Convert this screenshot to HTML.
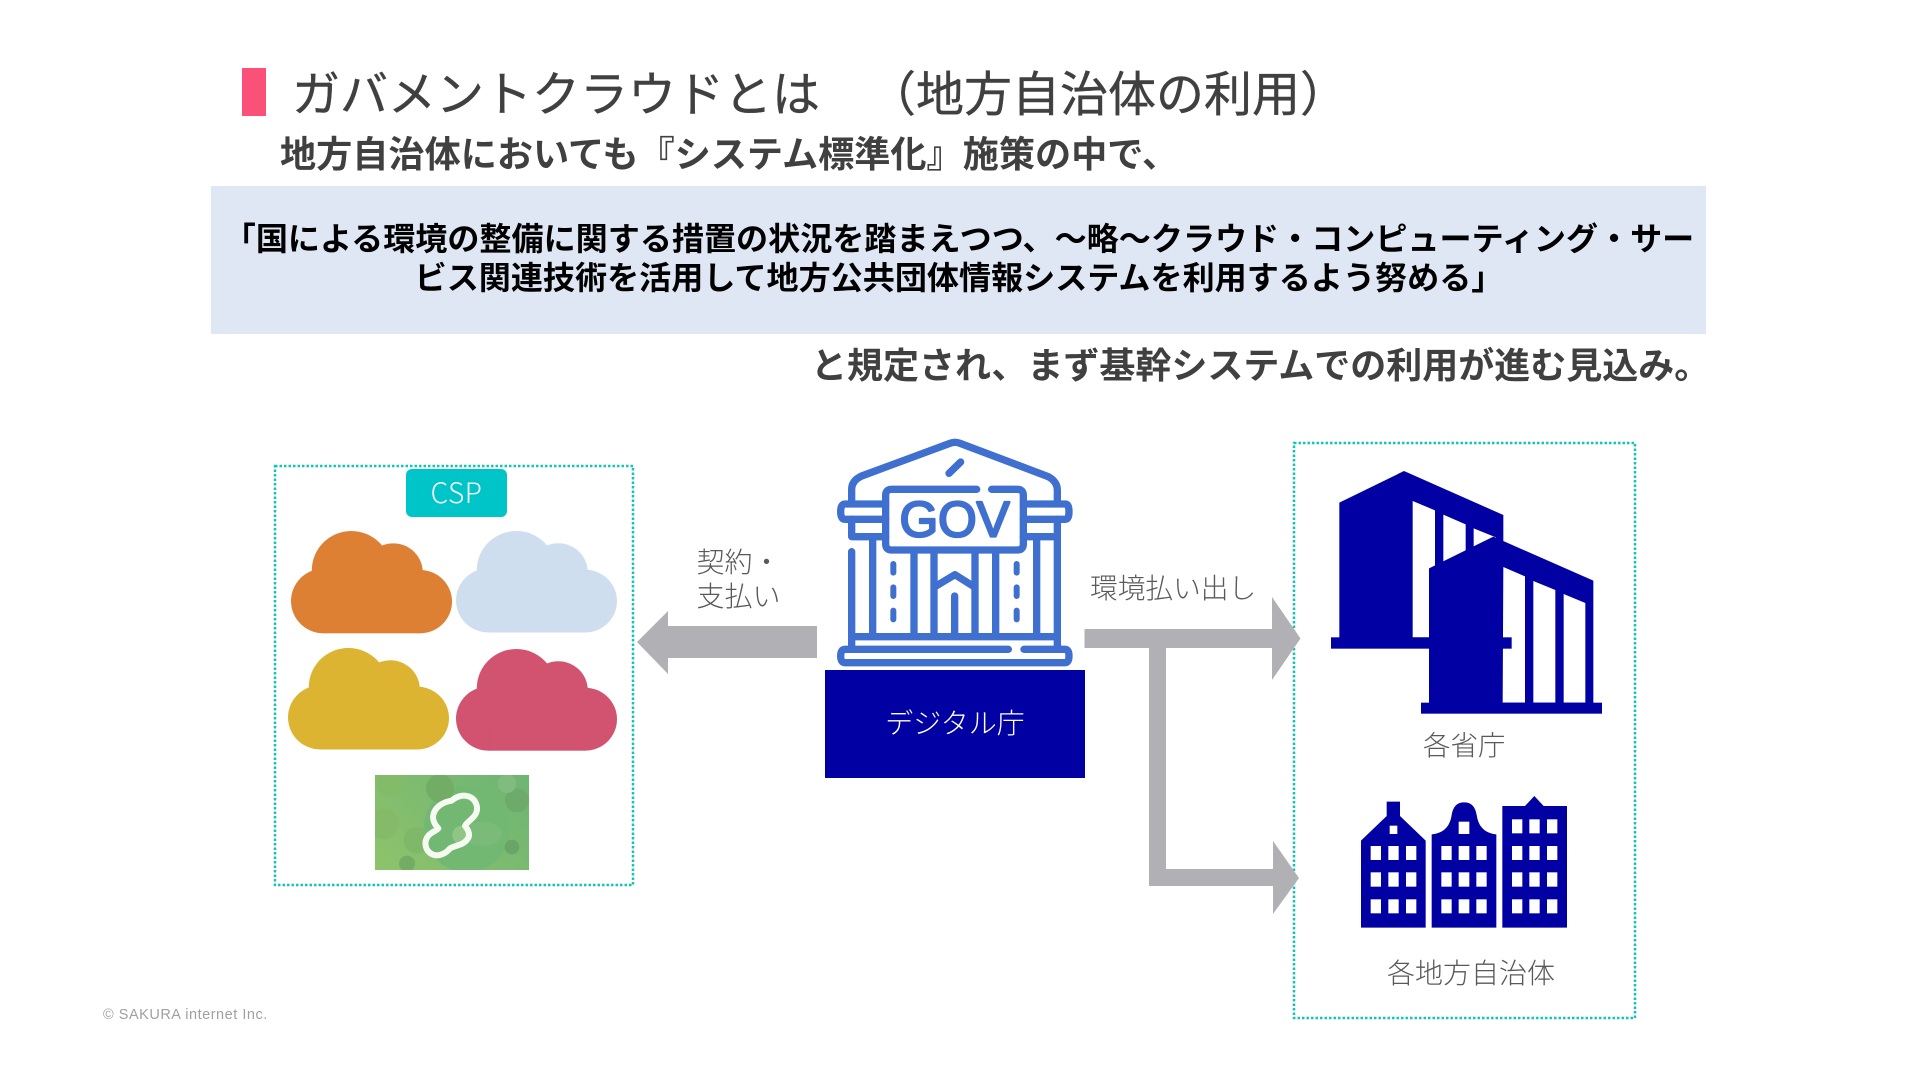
<!DOCTYPE html>
<html lang="ja">
<head>
<meta charset="utf-8">
<title>ガバメントクラウドとは</title>
<style>
html,body{margin:0;padding:0;background:#fff}
#p{position:relative;width:1920px;height:1080px;overflow:hidden;background:#fff;font-family:"Liberation Sans","Noto Sans CJK JP",sans-serif}
.t{position:absolute;white-space:nowrap;font-family:"Noto Sans CJK JP","Liberation Sans",sans-serif}
.l{color:#595959;font-weight:300}
svg{position:absolute;overflow:visible}
</style>
</head>
<body>
<div id="p">
<div style="position:absolute;left:242px;top:68px;width:24px;height:48px;background:#fb5078"></div>
<div class="t" style="left:292px;top:58px;font-size:48px;line-height:64px;color:#404040;-webkit-text-stroke:.4px #404040">ガバメントクラウドとは<span style="margin-left:48px">（地方自治体の利用）</span></div>
<div class="t" style="left:280px;top:127px;font-size:36.150px;line-height:50px;color:#404040;font-weight:700">地方自治体においても『システム標準化』施策の中で、</div>
<div style="position:absolute;left:210.500px;top:185.500px;width:1495.500px;height:148px;background:#dfe7f5"></div>
<div class="t" style="left:211px;top:218px;width:1496px;text-align:center;font-size:32.100px;line-height:39px;color:#000;font-weight:700">「国による環境の整備に関する措置の状況を踏まえつつ、～略～クラウド・コンピューティング・サー<br>ビス関連技術を活用して地方公共団体情報システムを利用するよう努める」</div>
<div class="t" style="left:811px;top:338px;font-size:36px;line-height:50px;color:#404040;font-weight:700">と規定され、まず基幹システムでの利用が進む見込み。</div>

<svg style="left:0;top:0" width="1920" height="1080" fill="none" stroke="#14c4b4" stroke-width="2.500" stroke-dasharray="2.500 2">
<rect x="275" y="466" width="358" height="419"/>
<rect x="1294" y="443" width="341" height="575"/>
</svg>
<div class="t" style="left:406px;top:469px;width:101px;height:48px;background:#00c5c8;border-radius:6px;text-align:center;color:#fff;font-size:28px;line-height:47px;font-weight:300;letter-spacing:.5px">CSP</div>

<svg width="0" height="0" style="position:absolute">
<defs>
<g id="cl">
<circle cx="97" cy="210" r="97"/><circle cx="385" cy="212" r="95"/><rect x="97" y="150" width="288" height="157"/><circle cx="180" cy="118" r="118"/><circle cx="305" cy="125" r="88"/>
</g>
</defs>
</svg>
<svg style="left:290.500px;top:531px" width="161" height="102.300" viewBox="0 0 480 307" preserveAspectRatio="none" fill="#dd8034"><use href="#cl"/></svg>
<svg style="left:456.200px;top:531px" width="161" height="101.500" viewBox="0 0 480 307" preserveAspectRatio="none" fill="#cfdeee"><use href="#cl"/></svg>
<svg style="left:288px;top:648.300px" width="161" height="101.500" viewBox="0 0 480 307" preserveAspectRatio="none" fill="#dcb432"><use href="#cl"/></svg>
<svg style="left:456.200px;top:649.300px" width="161" height="101.700" viewBox="0 0 480 307" preserveAspectRatio="none" fill="#d1536f"><use href="#cl"/></svg>

<svg style="left:375px;top:775px;overflow:hidden" width="154" height="95" viewBox="344 974 462 285" preserveAspectRatio="none">
<defs><linearGradient id="gg" x1="0" y1="0.8" x2="1" y2="0.2"><stop offset="0" stop-color="#8cc26b"/><stop offset="1" stop-color="#6fb574"/></linearGradient></defs>
<rect x="344" y="974" width="462" height="285" fill="url(#gg)"/>
<circle cx="370" cy="1120" r="46" fill="#84ba68"/>
<circle cx="390" cy="1000" r="40" fill="#84bb69"/>
<circle cx="620" cy="1135" r="130" fill="#72b772"/>
<circle cx="539" cy="1014" r="42" fill="#72ac65"/>
<circle cx="770" cy="1050" r="36" fill="#6cab6a"/>
<circle cx="440" cy="1240" r="24" fill="#74ac64"/>
<circle cx="755" cy="1190" r="22" fill="#6aa567"/>
<circle cx="470" cy="1170" r="40" fill="#80b86a"/>
<circle cx="740" cy="1000" r="28" fill="#80bb80"/>
<ellipse cx="665" cy="1150" rx="60" ry="36" fill="#7abb7a"/>
<circle cx="604" cy="1154" r="28" fill="#8fc585"/>
<path transform="translate(329 959)" d="M192 128C200 108 222 95 245 92C258 80 280 72 298 80C318 88 326 112 318 130C310 148 290 155 285 168C295 180 302 195 292 208C280 226 255 226 240 235C228 250 205 262 187 253C165 243 160 215 175 197C183 187 200 182 205 175C195 165 184 148 192 128Z" fill="none" stroke="#f6fbf2" stroke-width="18" stroke-linejoin="round"/>
</svg>

<svg style="left:820px;top:430px" width="300" height="360" viewBox="0 0 900 1080" fill="none" stroke="#3f70cf" stroke-width="22" stroke-linecap="round" stroke-linejoin="round">
<path d="M95 210V178Q95 152 125 138L390 40Q405 34 420 40L685 140Q712 155 712 180V210"/>
<path d="M387 130L422 96"/>
<path d="M470 178H215Q197 178 197 196V342Q197 360 215 360H592Q610 360 610 342V196Q610 178 592 178H515"/>
<text x="404" y="320" font-family="Liberation Sans" font-size="150" text-anchor="middle" fill="#3f70cf" stroke="#3f70cf" stroke-width="7" textLength="330" lengthAdjust="spacingAndGlyphs">GOV</text>
<path d="M197 222H75Q62 222 62 245Q62 268 75 268H197M610 222H735Q747 222 747 245Q747 268 735 268H610"/>
<path d="M95 268V320H197M712 268V320H610"/>
<path d="M95 365V650M158 320V620M282 365V620M342 365V620M465 365V620M527 365V620M650 320V620M712 320V650M95 620H712"/>
<path d="M220 402V428M220 472V498M220 542V568M590 402V428M590 472V498M590 542V568" stroke-width="18"/>
<path d="M345 470L405 434L462 470M404 498V610"/>
<path d="M565 658H75Q62 658 62 678Q62 698 75 698H735Q747 698 747 678Q747 658 735 658H612"/>
</svg>

<div class="t" style="left:825px;top:669.500px;width:260px;height:108.500px;background:#0000a3;color:#fff;text-align:center;font-size:28px;line-height:104px;font-weight:300">デジタル庁</div>

<svg style="left:0;top:0" width="1920" height="1080" fill="#b1b1b5">
<polygon points="637,642 668,611 668,626 817,626 817,658 668,658 668,674"/>
<polygon points="1084.500,629 1272,629 1272,597 1300.500,638.500 1272,680 1272,648 1166,648 1166,869 1273,869 1273,841 1299,878 1273,914 1273,886 1149,886 1149,648 1084.500,648"/>
</svg>

<div class="t l" style="left:696.500px;top:544px;font-size:28px;line-height:34px">契約・<br>支払い</div>
<div class="t l" style="left:1090px;top:566px;font-size:27.700px;line-height:40px">環境払い出し</div>

<svg style="left:1280px;top:430px" width="400" height="340" viewBox="0 0 1200 1020" fill="#0000a3">
<polygon points="178,218 372,123 670,255 670,640 178,640"/>
<g fill="#fff">
<polygon points="398,213 465,241 465,622 398,622"/>
<polygon points="490,254 557,283 557,622 490,622"/>
<polygon points="581,295 648,322 648,622 581,622"/>
</g>
<polygon points="447,415 640,320 940,452 940,830 447,830"/>
<g fill="#fff">
<polygon points="670,411 735,439 735,818 668,818"/>
<polygon points="760,453 826,480 826,818 760,818"/>
<polygon points="851,492 916,519 916,818 851,818"/>
</g>
<rect x="153" y="622" width="542" height="34"/>
<rect x="423" y="818" width="543" height="33"/>
</svg>
<div class="t l" style="left:1423px;top:723px;font-size:27.500px;line-height:40px">各省庁</div>

<svg style="left:1280px;top:770px" width="400" height="270" viewBox="0 0 1200 810" fill="#0000a3">
<polygon points="243,212 320,138 320,95 360,95 360,138 437,212 437,473 243,473"/>
<path d="M455 193C490 190 510 170 515 135C520 105 535 97 552 97C570 97 585 105 590 135C595 170 615 190 649 193V473H455Z"/>
<polygon points="667,108 735,108 763,78 791,108 861,108 861,473 667,473"/>
<g fill="#fff">
<rect x="329" y="167" width="23" height="25"/>
<rect x="536" y="155" width="32" height="37"/>
<rect x="272" y="228" width="31" height="42"/><rect x="325" y="228" width="31" height="42"/><rect x="378" y="228" width="31" height="42"/>
<rect x="272" y="307" width="31" height="43"/><rect x="325" y="307" width="31" height="43"/><rect x="378" y="307" width="31" height="43"/>
<rect x="272" y="388" width="31" height="42"/><rect x="325" y="388" width="31" height="42"/><rect x="378" y="388" width="31" height="42"/>
<rect x="484" y="228" width="31" height="42"/><rect x="536" y="228" width="32" height="42"/><rect x="589" y="228" width="31" height="42"/>
<rect x="484" y="307" width="31" height="43"/><rect x="536" y="307" width="32" height="43"/><rect x="589" y="307" width="31" height="43"/>
<rect x="484" y="388" width="31" height="42"/><rect x="536" y="388" width="32" height="42"/><rect x="589" y="388" width="31" height="42"/>
<rect x="696" y="148" width="31" height="42"/><rect x="748" y="148" width="31" height="42"/><rect x="801" y="148" width="31" height="42"/>
<rect x="696" y="228" width="31" height="42"/><rect x="748" y="228" width="31" height="42"/><rect x="801" y="228" width="31" height="42"/>
<rect x="696" y="307" width="31" height="43"/><rect x="748" y="307" width="31" height="43"/><rect x="801" y="307" width="31" height="43"/>
<rect x="696" y="388" width="31" height="42"/><rect x="748" y="388" width="31" height="42"/><rect x="801" y="388" width="31" height="42"/>
</g>
</svg>
<div class="t l" style="left:1387px;top:952px;font-size:28px;line-height:40px">各地方自治体</div>

<div style="position:absolute;left:103px;top:1005.500px;font-size:14.500px;line-height:18px;color:#a0a0a0;white-space:nowrap;letter-spacing:.52px;font-family:'Liberation Sans',sans-serif">© SAKURA internet Inc.</div>
</div>
</body>
</html>
